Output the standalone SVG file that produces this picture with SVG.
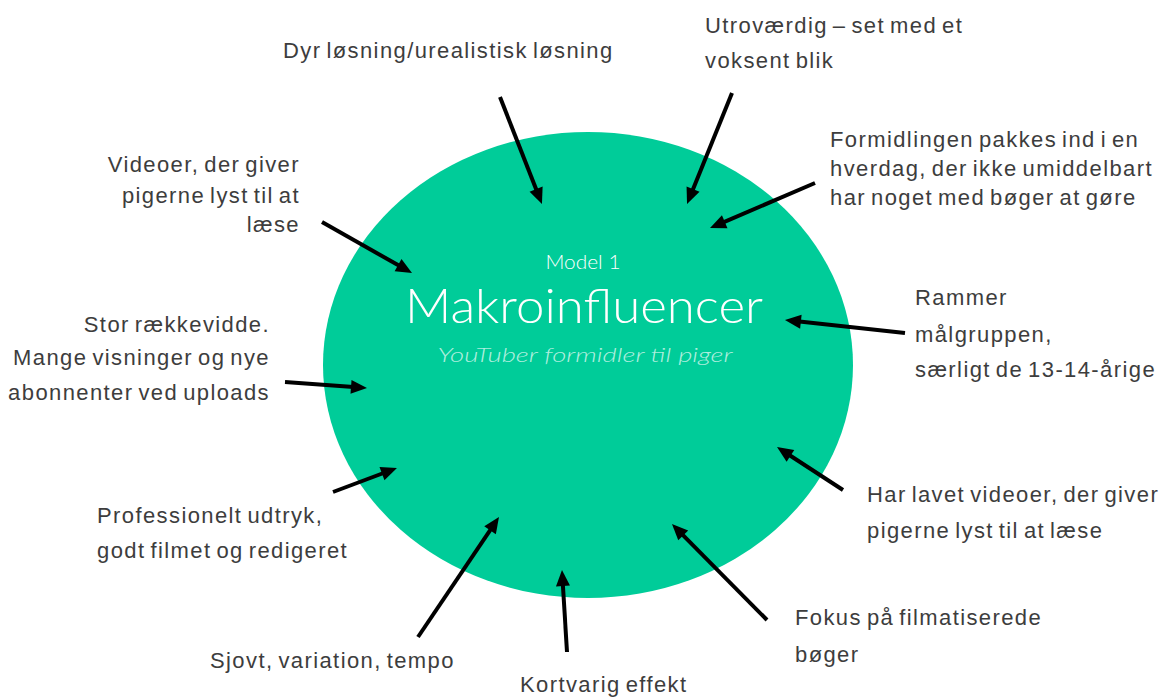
<svg xmlns="http://www.w3.org/2000/svg" width="1165" height="697" viewBox="0 0 1165 697">
  <style>
    .lbl { font-family: "Liberation Sans", Arial, sans-serif; font-size: 22px; fill: #3d3d3d; letter-spacing: 1.4px; word-spacing: -2.5px; }
    .end { text-anchor: end; }
    .hand { font-family: Lato, "Open Sans", sans-serif; font-weight: 300; fill: #ffffff; }
    .conn line { stroke: #000000; stroke-width: 4; marker-end: url(#head); }
  </style>
  <defs>
    <marker id="head" markerUnits="strokeWidth" markerWidth="4" markerHeight="3.5" refX="1.5" refY="1.75" orient="auto" overflow="visible">
      <path d="M0,0 L4,1.75 L0,3.5 z" fill="#000000"/>
    </marker>
  </defs>

  <rect width="1165" height="697" fill="#ffffff"/>

  <!-- central model -->
  <g id="center">
    <ellipse cx="588" cy="365" rx="265" ry="233" fill="#00cc99"/>
    <text class="hand" x="583" y="269" font-size="19" text-anchor="middle" textLength="75" lengthAdjust="spacingAndGlyphs">Model 1</text>
    <text class="hand" x="584" y="323" font-size="47" text-anchor="middle" textLength="358" lengthAdjust="spacingAndGlyphs">Makroinfluencer</text>
    <text class="hand" x="585" y="362" font-size="20" font-style="italic" text-anchor="middle" fill-opacity="0.7" textLength="295" lengthAdjust="spacingAndGlyphs">YouTuber formidler til piger</text>
  </g>

  <!-- labels -->
  <g id="n-dyr"><text class="lbl" x="283" y="58">Dyr løsning/urealistisk løsning</text></g>
  <g id="n-utrovaerdig">
    <text class="lbl" x="705" y="33">Utroværdig – set med et</text>
    <text class="lbl" x="705" y="68">voksent blik</text>
  </g>
  <g id="n-formidlingen">
    <text class="lbl" x="830" y="147">Formidlingen pakkes ind i en</text>
    <text class="lbl" x="830" y="176">hverdag, der ikke umiddelbart</text>
    <text class="lbl" x="830" y="205">har noget med bøger at gøre</text>
  </g>
  <g id="n-videoer">
    <text class="lbl end" x="300" y="172">Videoer, der giver</text>
    <text class="lbl end" x="300" y="203">pigerne lyst til at</text>
    <text class="lbl end" x="300" y="232">læse</text>
  </g>
  <g id="n-rammer">
    <text class="lbl" x="915" y="305">Rammer</text>
    <text class="lbl" x="915" y="342">målgruppen,</text>
    <text class="lbl" x="915" y="377">særligt de 13-14-årige</text>
  </g>
  <g id="n-stor">
    <text class="lbl end" x="270" y="332">Stor rækkevidde.</text>
    <text class="lbl end" x="270" y="365">Mange visninger og nye</text>
    <text class="lbl end" x="270" y="400">abonnenter ved uploads</text>
  </g>
  <g id="n-professionelt">
    <text class="lbl" x="97" y="523">Professionelt udtryk,</text>
    <text class="lbl" x="97" y="558">godt filmet og redigeret</text>
  </g>
  <g id="n-harlavet">
    <text class="lbl" x="867" y="502">Har lavet videoer, der giver</text>
    <text class="lbl" x="867" y="538">pigerne lyst til at læse</text>
  </g>
  <g id="n-sjovt"><text class="lbl" x="210" y="668">Sjovt, variation, tempo</text></g>
  <g id="n-kortvarig"><text class="lbl" x="520" y="692">Kortvarig effekt</text></g>
  <g id="n-fokus">
    <text class="lbl" x="795" y="625">Fokus på filmatiserede</text>
    <text class="lbl" x="795" y="662">bøger</text>
  </g>

  <!-- connectors -->
  <g id="connectors" class="conn">
    <line x1="500" y1="97" x2="538.3" y2="194.7"/>
    <line x1="732" y1="93" x2="690.8" y2="194.7"/>
    <line x1="815" y1="183" x2="719.2" y2="224.1"/>
    <line x1="322" y1="222" x2="403.3" y2="268.1"/>
    <line x1="905" y1="333" x2="794.9" y2="321.1"/>
    <line x1="285" y1="382" x2="357.0" y2="387.3"/>
    <line x1="333" y1="492" x2="387.6" y2="471.5"/>
    <line x1="843" y1="490" x2="785.4" y2="452.5"/>
    <line x1="767" y1="620" x2="679.0" y2="531.1"/>
    <line x1="418" y1="637" x2="493.4" y2="525.3"/>
    <line x1="567" y1="652" x2="562.6" y2="580.0"/>
  </g>
</svg>
